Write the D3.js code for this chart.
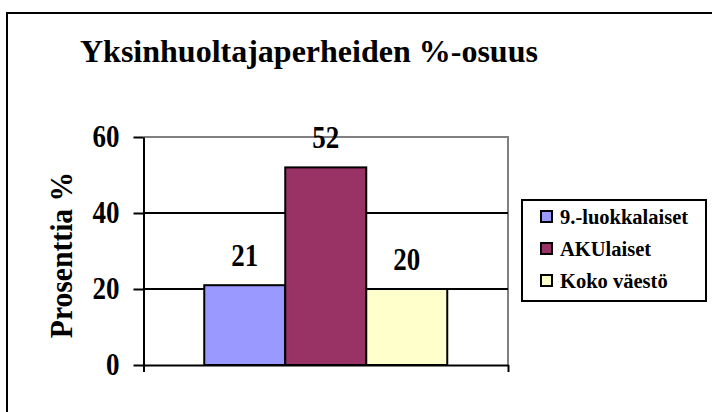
<!DOCTYPE html>
<html>
<head>
<meta charset="utf-8">
<script src="https://cdn.jsdelivr.net/npm/d3@7"></script>
<style>
  body { margin: 0; background: #fff; }
</style>
</head>
<body>
<svg id="chart" width="712" height="412"></svg>
<script>
const title = 'Yksinhuoltajaperheiden %-osuus';
const yTitle = 'Prosenttia %';
const series = ['9.-luokkalaiset', 'AKUlaiset', 'Koko väestö'];
const values = [21, 52, 20];
const colors = ['#9999ff', '#993366', '#ffffcc'];
const yTicks = [0, 20, 40, 60];

const FONT = 'Liberation Serif';
const svg = d3.select('#chart');

// outer chart frame (runs off the right and bottom edges)
svg.append('rect')
  .attr('x', 7).attr('y', 13)
  .attr('width', 720).attr('height', 420)
  .attr('fill', 'none').attr('stroke', '#000').attr('stroke-width', 2);

const plot = {left: 143.5, right: 508, top: 137, bottom: 365};

const y = d3.scaleLinear().domain([0, 60]).range([plot.bottom, plot.top]);
// one category; the three series sit side by side in the middle two thirds
const x = d3.scaleBand().domain(series)
  .range([plot.left + (plot.right - plot.left) / 6, plot.right - (plot.right - plot.left) / 6])
  .paddingInner(0).paddingOuter(0);

svg.append('text')
  .attr('x', 80).attr('y', 62)
  .attr('font-family', FONT).attr('font-weight', 'bold')
  .attr('font-size', 32)
  .text(title);

// plot frame: gray top and right
svg.append('path')
  .attr('d', `M${plot.left},${plot.top}H${plot.right}V${plot.bottom}`)
  .attr('fill', 'none').attr('stroke', '#808080').attr('stroke-width', 2);

// gridlines
svg.append('g')
  .selectAll('line')
  .data(yTicks.filter(d => d > 0 && d < 60))
  .join('line')
  .attr('x1', plot.left).attr('x2', plot.right)
  .attr('y1', d => y(d)).attr('y2', d => y(d))
  .attr('stroke', '#000').attr('stroke-width', 2);

// bars
svg.append('g')
  .selectAll('rect')
  .data(values)
  .join('rect')
  .attr('x', (d, i) => x(series[i]))
  .attr('y', d => y(d))
  .attr('width', x.bandwidth())
  .attr('height', d => y(0) - y(d))
  .attr('fill', (d, i) => colors[i])
  .attr('stroke', '#000').attr('stroke-width', 2);

// value labels
svg.append('g')
  .selectAll('text')
  .data(values)
  .join('text')
  .attr('transform', (d, i) => `translate(${x(series[i]) + x.bandwidth() / 2},${y(d) - 19}) scale(1,1.17)`)
  .attr('text-anchor', 'middle')
  .attr('font-family', FONT).attr('font-weight', 'bold')
  .attr('font-size', 27)
  .text(d => d);

// y axis
const yAxis = svg.append('g')
  .attr('transform', `translate(${plot.left},0)`)
  .call(d3.axisLeft(y).tickValues(yTicks).tickSize(10).tickSizeOuter(0).tickPadding(0));
yAxis.attr('font-family', FONT).attr('font-size', 27).attr('font-weight', 'bold');
yAxis.select('.domain').attr('stroke', '#000').attr('stroke-width', 2);
yAxis.selectAll('.tick line').attr('stroke', '#000').attr('stroke-width', 2);
yAxis.selectAll('.tick text')
  .attr('fill', '#000')
  .attr('x', null).attr('dy', null)
  .attr('transform', 'translate(-24,9) scale(1,1.17)')
  .attr('text-anchor', 'end');

// x axis: a single category, ticks at its edges
const xAxis = svg.append('g')
  .attr('transform', `translate(0,${plot.bottom})`)
  .call(d3.axisBottom(d3.scaleLinear().domain([0, 1]).range([plot.left, plot.right]))
    .tickValues([0, 1]).tickSize(7).tickSizeOuter(0).tickFormat(''));
xAxis.select('.domain').attr('stroke', '#000').attr('stroke-width', 2);
xAxis.selectAll('.tick line').attr('stroke', '#000').attr('stroke-width', 2);

// y title
svg.append('text')
  .attr('transform', `translate(72,${(plot.top + plot.bottom) / 2 + 4}) rotate(-90) scale(1,1.1)`)
  .attr('text-anchor', 'middle')
  .attr('font-family', FONT).attr('font-weight', 'bold')
  .attr('font-size', 29.6)
  .text(yTitle);

// legend
const legend = svg.append('g').attr('transform', 'translate(522,200)');
legend.append('rect')
  .attr('width', 184).attr('height', 101)
  .attr('fill', '#fff').attr('stroke', '#000').attr('stroke-width', 2);
const item = legend.selectAll('g.item')
  .data(series)
  .join('g')
  .attr('class', 'item')
  .attr('transform', (d, i) => `translate(19,${11 + i * 32})`);
item.append('rect')
  .attr('width', 11).attr('height', 11)
  .attr('fill', (d, i) => colors[i])
  .attr('stroke', '#000').attr('stroke-width', 2);
item.append('text')
  .attr('x', 19).attr('y', 13)
  .attr('font-family', FONT).attr('font-weight', 'bold')
  .attr('font-size', 20.5)
  .text(d => d);
</script>
</body>
</html>
